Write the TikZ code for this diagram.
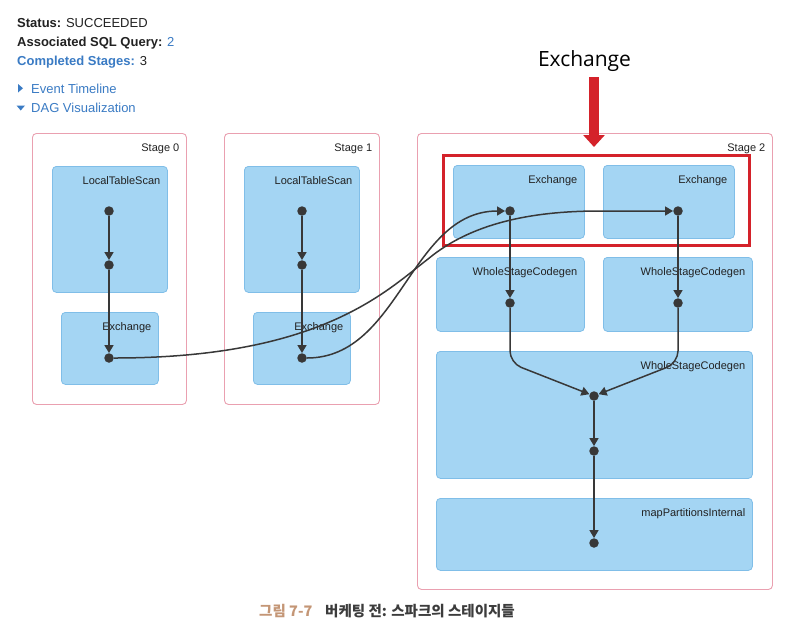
\documentclass[tikz,border=0pt]{standalone}
\usepackage{fontspec}
\setmainfont{Liberation Sans}
\newfontfamily\opensans{Open Sans}
\newfontfamily\krfont{Noto Sans CJK KR}
\usetikzlibrary{arrows.meta}
\definecolor{linkblue}{RGB}{58,123,196}
\definecolor{txtdark}{RGB}{34,34,34}
\definecolor{stagepink}{RGB}{234,160,176}
\definecolor{opfill}{RGB}{164,213,243}
\definecolor{opline}{RGB}{128,190,232}
\definecolor{dotgray}{RGB}{56,56,56}
\definecolor{hired}{RGB}{212,34,42}
\definecolor{captan}{RGB}{196,150,118}
\definecolor{capdark}{RGB}{60,60,60}
\tikzset{
 stagebox/.style={draw=stagepink, line width=0.9pt, rounded corners=4pt, fill=white, anchor=north west, inner sep=0},
 opbox/.style={draw=opline, line width=0.8pt, fill=opfill, rounded corners=4pt, anchor=north west, inner sep=0},
 boxlbl/.style={anchor=base east, inner sep=0, font=\fontsize{11}{13}\selectfont, text=txtdark},
 dotnode/.style={circle, fill=dotgray, inner sep=0, minimum size=9.5pt},
 edge/.style={draw=dotgray, line width=1.5pt, -{Triangle[length=8pt,width=9pt]}},
 hdr/.style={anchor=base west, inner sep=0, font=\fontsize{13}{15}\selectfont, text=txtdark},
 captxt/.style={anchor=base west, inner sep=0, font=\krfont\bfseries\fontsize{14.5}{16}\selectfont},
}
\newcommand\mkbox[7]{%
  \node[#1, minimum width={#5-#3}, minimum height={#6-#4}] (#2) at (#3,#4) {};
  \node[boxlbl] (#2t) at (#5-6.5,#4+18) {#7};}
\begin{document}
\begin{tikzpicture}[x=1pt,y=-1pt]
\useasboundingbox[fill=white] (0,0) rectangle (789,638);
% header
\node[hdr] (h1) at (17,27) {\textbf{Status:} SUCCEEDED};
\node[hdr] (h2) at (17,46) {\textbf{Associated SQL Query:} \textcolor{linkblue}{2}};
\node[hdr] (h3) at (17,65) {\textcolor{linkblue}{\textbf{Completed Stages:}} 3};
\node[hdr, text=linkblue] (h4) at (31,93) {Event Timeline};
\node[hdr, text=linkblue] (h5) at (31,112) {DAG Visualization};
\fill[linkblue] (18,84) -- (18,92.5) -- (23,88.25) -- cycle;
\fill[linkblue] (16.5,105.5) -- (25,105.5) -- (20.75,110.5) -- cycle;
% stages
\mkbox{stagebox}{s0}{32}{133}{186}{404}{Stage 0}
\mkbox{stagebox}{s1}{224}{133}{379}{404}{Stage 1}
\mkbox{stagebox}{s2}{417}{133}{772}{589}{Stage 2}
% operator boxes
\mkbox{opbox}{b0a}{52}{166}{167}{292}{LocalTableScan}
\mkbox{opbox}{b0b}{61}{312}{158}{384}{Exchange}
\mkbox{opbox}{b1a}{244}{166}{359}{292}{LocalTableScan}
\mkbox{opbox}{b1b}{253}{312}{350}{384}{Exchange}
\mkbox{opbox}{e1}{453}{165}{584}{238}{Exchange}
\mkbox{opbox}{e2}{603}{165}{734}{238}{Exchange}
\mkbox{opbox}{w1}{436}{257}{584}{331}{WholeStageCodegen}
\mkbox{opbox}{w2}{603}{257}{752}{331}{WholeStageCodegen}
\mkbox{opbox}{w3}{436}{351}{752}{478}{WholeStageCodegen}
\mkbox{opbox}{mp}{436}{498}{752}{570}{mapPartitionsInternal}
% highlight
\node[draw=hired, line width=2.8pt, anchor=north west, inner sep=0, minimum width=306, minimum height=90] (redbox) at (442,154) {};
\node[font=\opensans\fontsize{21}{24}\selectfont, anchor=base, inner sep=0] (exlbl) at (584.5,66) {Exchange};
\coordinate (ra1) at (594,77);
\coordinate (ra2) at (594,147);
\draw[hired, line width=9.5pt, -{Triangle[length=12pt,width=21pt]}] (ra1) -- (ra2);
% dots
\node[dotnode] (d0a) at (109,211) {};
\node[dotnode] (d0b) at (109,265) {};
\node[dotnode] (d0c) at (109,358) {};
\node[dotnode] (d1a) at (302,211) {};
\node[dotnode] (d1b) at (302,265) {};
\node[dotnode] (d1c) at (302,358) {};
\node[dotnode] (de1) at (510,211) {};
\node[dotnode] (de2) at (678,211) {};
\node[dotnode] (dw1) at (510,303) {};
\node[dotnode] (dw2) at (678,303) {};
\node[dotnode] (dm1) at (594,396) {};
\node[dotnode] (dm2) at (594,451) {};
\node[dotnode] (dp) at (594,543) {};
% edges
\draw[edge] (d0a) -- (d0b);
\draw[edge] (d0b) -- (d0c);
\draw[edge] (d1a) -- (d1b);
\draw[edge] (d1b) -- (d1c);
\draw[edge] (d1c) .. controls (400,358) and (410,211) .. (de1);
\draw[edge] (d0c) .. controls (320,358) and (385,292) .. (428,259) .. controls (475,220) and (540,211) .. (600,211) -- (de2);
\draw[edge] (de1) -- (dw1);
\draw[edge] (de2) -- (dw2);
\draw[edge, rounded corners=12pt] (dw1) -- (510,363) -- (dm1);
\draw[edge, rounded corners=12pt] (dw2) -- (678,363) -- (dm1);
\draw[edge] (dm1) -- (dm2);
\draw[edge] (dm2) -- (dp);
% caption
\node[captxt, text=captan] (capnum) at (259,616) {그림 7-7};
\node[captxt, text=capdark] (capmain) at (325,616) {버케팅 전: 스파크의 스테이지들};
\end{tikzpicture}
\end{document}
